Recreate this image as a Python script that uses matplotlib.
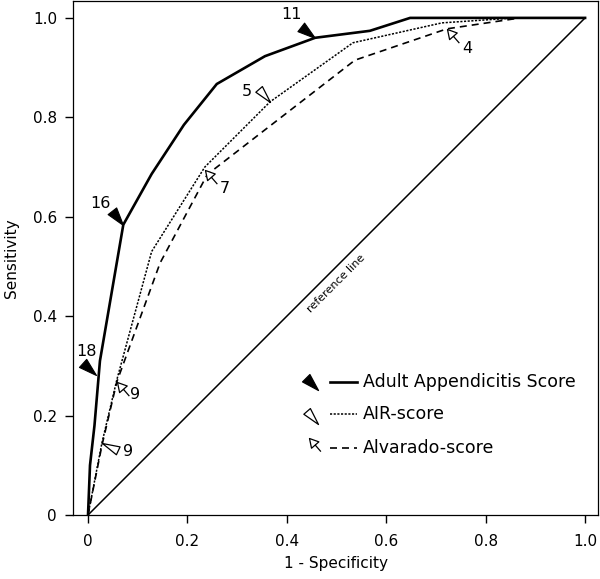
import matplotlib
matplotlib.use('Agg')
import matplotlib.pyplot as plt
import numpy as np
from matplotlib.markers import MarkerStyle
from matplotlib.path import Path
from matplotlib.transforms import Affine2D


# ROC curves: (1 - specificity, sensitivity)
aas_x = [0, 0.004, 0.013, 0.024, 0.071, 0.128, 0.193, 0.259, 0.356, 0.457, 0.567, 0.648, 1.0]
aas_y = [0, 0.10, 0.18, 0.31, 0.584, 0.686, 0.785, 0.867, 0.923, 0.960, 0.974, 1.0, 1.0]
air_x = [0, 0.028, 0.058, 0.128, 0.235, 0.366, 0.533, 0.712, 0.86, 1.0]
air_y = [0, 0.145, 0.272, 0.53, 0.70, 0.831, 0.95, 0.99, 1.0, 1.0]
alv_x = [0, 0.028, 0.058, 0.145, 0.24, 0.537, 0.722, 0.87, 1.0]
alv_y = [0, 0.14, 0.268, 0.507, 0.685, 0.915, 0.978, 1.0, 1.0]

# cut-off points marked on the curves
aas_cut = ['18', '16', '11']
aas_cut_x = [0.016, 0.070, 0.457]
aas_cut_y = [0.282, 0.584, 0.960]
air_cut = ['9', '5']
air_cut_x = [0.028, 0.366]
air_cut_y = [0.145, 0.831]
alv_cut = ['9', '7', '4']
alv_cut_x = [0.058, 0.235, 0.722]
alv_cut_y = [0.268, 0.694, 0.978]

labels = ['Adult Appendicitis Score', 'AIR-score', 'Alvarado-score']
ticks = [0, 0.2, 0.4, 0.6, 0.8, 1.0]
tick_labels = ['0', '0.2', '0.4', '0.6', '0.8', '1.0']


# marker shapes, tip at origin pointing along +x
def tri_path(w):
    return Path([(0, 0), (-1, w), (-1, -w), (0, 0)],
                [Path.MOVETO, Path.LINETO, Path.LINETO, Path.CLOSEPOLY])


def arrow_path():
    verts = [(0, 0), (-0.5, 0.28), (-0.5, -0.28), (0, 0), (-0.5, 0), (-1, 0)]
    codes = [Path.MOVETO, Path.LINETO, Path.LINETO, Path.CLOSEPOLY,
             Path.MOVETO, Path.LINETO]
    return Path(verts, codes)


def marker(path, angle):
    return MarkerStyle(path, transform=Affine2D().rotate_deg(angle))


filled = tri_path(0.3)
opentri = tri_path(0.25)
arrow = arrow_path()

solid_style = dict(color='black', lw=1.9, linestyle='-', solid_joinstyle='miter')
air_style = dict(color='black', lw=1.1, linestyle=(0, (1.4, 1.0)))
alv_style = dict(color='black', lw=1.2, linestyle=(0, (4.2, 3.0)))

fig = plt.figure(figsize=(6, 5.79), dpi=100)
ax = fig.add_axes([73 / 600, 64 / 579, 525 / 600, 514 / 579])

ax.plot([0, 1], [0, 1], color='black', lw=1.1)
ax.text(0.5, 0.465, 'reference line', rotation=45, fontsize=8,
        ha='center', va='center', rotation_mode='anchor')

ax.plot(aas_x, aas_y, **solid_style)
ax.plot(air_x, air_y, **air_style)
ax.plot(alv_x, alv_y, **alv_style)

# annotate cut-offs
aas_ang = [-42, -52, -38]
aas_off = [(-7, 16.5), (-16, 15), (-17, 17)]
for i, lab in enumerate(aas_cut):
    ax.plot(aas_cut_x[i], aas_cut_y[i], linestyle='none',
            marker=marker(filled, aas_ang[i]), ms=26,
            mfc='black', mec='black', mew=0.8)
    ax.annotate(lab, (aas_cut_x[i], aas_cut_y[i]), xytext=aas_off[i],
                textcoords='offset points', fontsize=11.5, ha='center', va='center')

air_ang = [155, -49]
air_off = [(19, -6.5), (-17, 7.5)]
for i, lab in enumerate(air_cut):
    ax.plot(air_cut_x[i], air_cut_y[i], linestyle='none',
            marker=marker(opentri, air_ang[i]), ms=25,
            mfc='white', mec='black', mew=0.9)
    ax.annotate(lab, (air_cut_x[i], air_cut_y[i]), xytext=air_off[i],
                textcoords='offset points', fontsize=11.5, ha='center', va='center')

alv_off = [(13, -9), (14.5, -13), (15, -14)]
for i, lab in enumerate(alv_cut):
    ax.plot(alv_cut_x[i], alv_cut_y[i], linestyle='none',
            marker=marker(arrow, 131), ms=26,
            mfc='white', mec='black', mew=0.9)
    ax.annotate(lab, (alv_cut_x[i], alv_cut_y[i]), xytext=alv_off[i],
                textcoords='offset points', fontsize=11.5, ha='center', va='center')

# hand-made legend (axes fraction)
leg_y = [0.259, 0.196, 0.130]
leg_markers = [(filled, -45, 'black', 0.466, 0.243),
               (opentri, -49, 'white', 0.466, 0.178),
               (arrow, 131, 'white', 0.449, 0.150)]
leg_styles = [solid_style, air_style, alv_style]
for i, lab in enumerate(labels):
    path, ang, fc, mx, my = leg_markers[i]
    ax.plot(mx, my, transform=ax.transAxes, linestyle='none',
            marker=marker(path, ang), ms=25,
            mfc=fc, mec='black', mew=0.9, clip_on=False)
    ax.plot([0.489, 0.540], [leg_y[i], leg_y[i]], transform=ax.transAxes,
            **leg_styles[i])
    ax.text(0.553, leg_y[i], lab, transform=ax.transAxes, fontsize=12.5,
            ha='left', va='center')

ax.set_xlim(-0.0302, 1.026)
ax.set_ylim(0, 1.034)
ax.set_xticks(ticks)
ax.set_xticklabels(tick_labels)
ax.set_yticks(ticks)
ax.set_yticklabels(tick_labels)
ax.tick_params(direction='out', length=6, width=1, labelsize=11,
               top=False, right=False)
ax.tick_params(axis='x', pad=8)
ax.tick_params(axis='y', pad=5.5)
for s in ax.spines.values():
    s.set_linewidth(0.9)

ax.set_xlabel('1 - Specificity', fontsize=11, labelpad=5)
ax.set_ylabel('Sensitivity', fontsize=11, labelpad=10)

fig.savefig('out.png', dpi=100)
